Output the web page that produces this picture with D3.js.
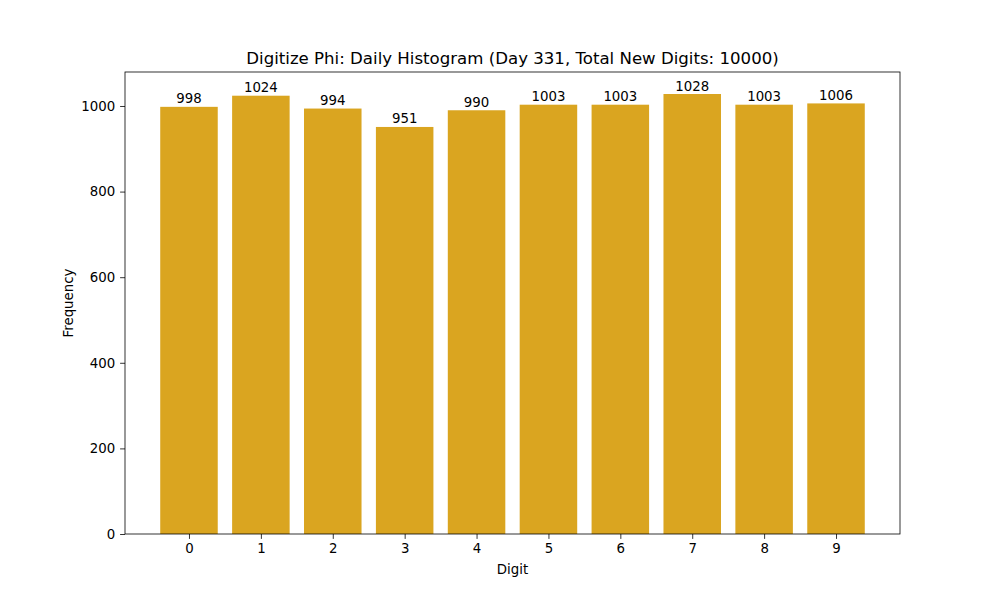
<!DOCTYPE html>
<html>
<head>
<meta charset="utf-8">
<script src="https://cdn.jsdelivr.net/npm/d3@7"></script>
<style>
  body { margin: 0; background: #fff; }
  text { font-family: "DejaVu Sans", sans-serif; }
</style>
</head>
<body>
<div id="chart"></div>
<script>
// data
const digits = ["0","1","2","3","4","5","6","7","8","9"];
const counts = [998, 1024, 994, 951, 990, 1003, 1003, 1028, 1003, 1006];
const yTicks = [0, 200, 400, 600, 800, 1000];

const width = 1000, height = 600;
const margin = { top: 72, right: 100, bottom: 66, left: 125 };
const plotW = width - margin.left - margin.right;
const plotH = height - margin.top - margin.bottom;

const svg = d3.select("#chart").append("svg")
  .attr("width", width).attr("height", height);

// matplotlib-like linear x: bars centred on integers, width 0.8, 5% margins
const x = d3.scaleLinear().domain([-0.89, 9.89]).range([0, plotW]);
const y = d3.scaleLinear().domain([0, 1028 * 1.05]).range([plotH, 0]);

const g = svg.append("g").attr("transform", "translate(" + margin.left + "," + margin.top + ")");

g.selectAll(".bar")
  .data(counts)
  .enter()
  .append("rect")
  .attr("class", "bar")
  .attr("x", (d, i) => x(i - 0.4))
  .attr("width", (d, i) => x(i + 0.4) - x(i - 0.4))
  .attr("y", d => y(d))
  .attr("height", d => plotH - y(d))
  .attr("fill", "#DAA520");

g.selectAll(".lbl")
  .data(counts)
  .enter()
  .append("text")
  .attr("class", "lbl")
  .attr("x", (d, i) => x(i))
  .attr("y", d => y(d) - 3.5)
  .attr("text-anchor", "middle")
  .attr("font-size", "13.33px")
  .attr("fill", "#000")
  .text(d => d);

const xAxis = d3.axisBottom(x)
  .tickValues(digits.map((d, i) => i))
  .tickFormat(i => digits[i])
  .tickSize(4.9).tickPadding(4.9);
const yAxis = d3.axisLeft(y)
  .tickValues(yTicks)
  .tickFormat(d3.format("d"))
  .tickSize(4.9).tickPadding(4.9);

const gx = g.append("g").attr("transform", "translate(0," + plotH + ")").call(xAxis);
const gy = g.append("g").call(yAxis);
[gx, gy].forEach(a => {
  a.select(".domain").remove();
  a.selectAll("text").attr("font-size", "13.33px").attr("fill", "#000")
    .attr("font-family", "DejaVu Sans, sans-serif");
  a.selectAll("line").attr("stroke", "#000").attr("stroke-width", 0.8);
});

// frame
g.append("rect")
  .attr("width", plotW).attr("height", plotH)
  .attr("fill", "none").attr("stroke", "#000").attr("stroke-width", 0.8);

svg.append("text")
  .attr("x", margin.left + plotW / 2).attr("y", 64)
  .attr("text-anchor", "middle").attr("font-size", "16.6px")
  .text("Digitize Phi: Daily Histogram (Day 331, Total New Digits: 10000)");

svg.append("text")
  .attr("x", margin.left + plotW / 2).attr("y", 574)
  .attr("text-anchor", "middle").attr("font-size", "13.33px")
  .text("Digit");

svg.append("text")
  .attr("transform", "translate(73," + (margin.top + plotH / 2) + ") rotate(-90)")
  .attr("text-anchor", "middle").attr("font-size", "13.33px")
  .text("Frequency");
</script>
</body>
</html>
